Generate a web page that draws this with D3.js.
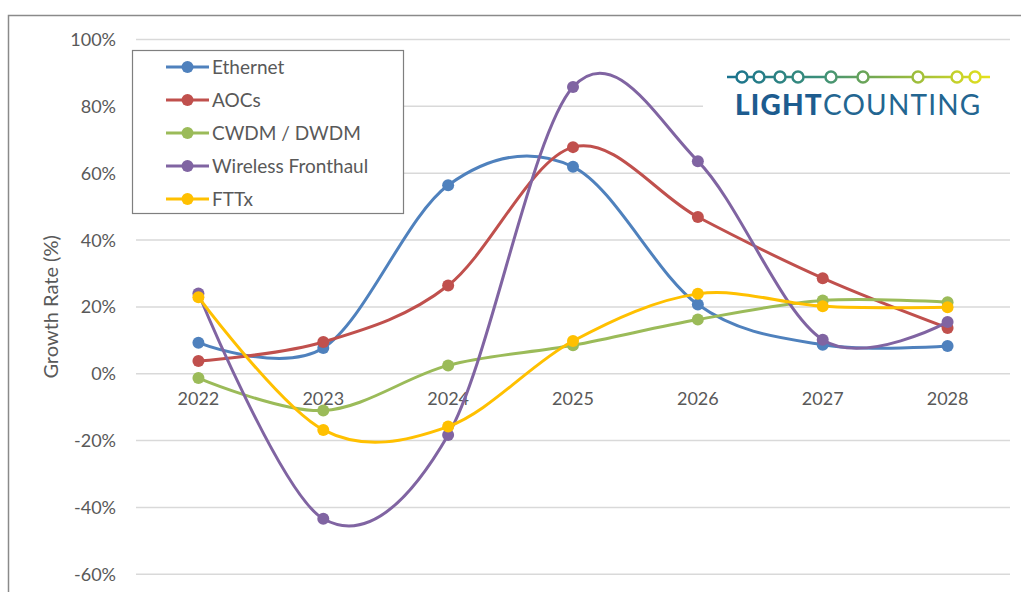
<!DOCTYPE html>
<html>
<head>
<meta charset="utf-8">
<script src="https://cdn.jsdelivr.net/npm/d3@7/dist/d3.min.js"></script>
<style>
  html, body { margin: 0; padding: 0; background: #fff; }
  svg { display: block; font-family: Lato, "Open Sans", sans-serif; }
</style>
</head>
<body>
<svg id="chart" width="1021" height="592"></svg>
<script>
// Growth rate by segment, 2022–2028 (%)
const years = ["2022", "2023", "2024", "2025", "2026", "2027", "2028"];
const seriesNames = ["Ethernet", "AOCs", "CWDM / DWDM", "Wireless Fronthaul", "FTTx"];
const ethernet  = [9.3, 7.7, 56.4, 61.9, 20.7, 8.7, 8.3];
const aocs      = [3.8, 9.5, 26.4, 67.8, 46.9, 28.6, 13.7];
const cwdm      = [-1.3, -11.0, 2.5, 8.5, 16.2, 21.9, 21.4];
const fronthaul = [24.0, -43.4, -18.3, 85.8, 63.6, 10.2, 15.5];
const fttx      = [22.9, -16.8, -15.8, 9.8, 23.9, 20.2, 19.9];
const yTicks = [-60, -40, -20, 0, 20, 40, 60, 80, 100];
const colors = ["#4f81bd", "#c0504d", "#9bbb59", "#8064a2", "#ffc000"];

const seriesValues = [ethernet, aocs, cwdm, fronthaul, fttx];
const series = seriesNames.map((name, i) => ({
  name, color: colors[i],
  points: years.map((y, j) => ({ year: y, value: seriesValues[i][j] }))
}));

const svg = d3.select("#chart");
const textColor = "#595959";

// Outer chart frame
svg.append("rect")
  .attr("x", 8.5).attr("y", 15.5)
  .attr("width", 1030).attr("height", 600)
  .attr("fill", "none").attr("stroke", "#8a8a8a").attr("stroke-width", 1.5);

const x = d3.scaleBand().domain(years).range([136, 1010]);
const xc = d => x(d) + x.bandwidth() / 2;
const y = d3.scaleLinear().domain([-60, 100]).range([574.3, 39.5]);

// Gridlines
svg.append("g").selectAll("line").data(yTicks).join("line")
  .attr("x1", 136).attr("x2", 1010)
  .attr("y1", d => y(d)).attr("y2", d => y(d))
  .attr("stroke", "#d9d9d9").attr("stroke-width", 1.5);

// Y tick labels
svg.append("g").selectAll("text").data(yTicks).join("text")
  .attr("x", 116).attr("y", d => y(d))
  .attr("dy", "0.36em")
  .attr("text-anchor", "end")
  .attr("fill", textColor).attr("font-size", 18)
  .text(d => d + "%");

// Y axis title
svg.append("text")
  .attr("transform", `translate(58,${(y(100) + y(-60)) / 2}) rotate(-90)`)
  .attr("text-anchor", "middle")
  .attr("fill", textColor).attr("font-size", 20)
  .text("Growth Rate (%)");

// X category labels sit just under the zero line
svg.append("g").selectAll("text").data(years).join("text")
  .attr("x", d => xc(d)).attr("y", 405)
  .attr("text-anchor", "middle")
  .attr("fill", textColor).attr("font-size", 18)
  .text(d => d);

// Logo (white panel covers the gridline behind it)
const logo = svg.append("g");
logo.append("rect").attr("x", 703).attr("y", 52).attr("width", 310).attr("height", 72).attr("fill", "#fff");
const defs = svg.append("defs");
const grad = defs.append("linearGradient").attr("id", "lcGrad")
  .attr("gradientUnits", "userSpaceOnUse")
  .attr("x1", 727).attr("x2", 990).attr("y1", 0).attr("y2", 0);
grad.append("stop").attr("offset", "0%").attr("stop-color", "#19728f");
grad.append("stop").attr("offset", "35%").attr("stop-color", "#3b8f7a");
grad.append("stop").attr("offset", "60%").attr("stop-color", "#7fae4a");
grad.append("stop").attr("offset", "100%").attr("stop-color", "#e6e21c");
logo.append("line").attr("x1", 727).attr("x2", 990).attr("y1", 77).attr("y2", 77)
  .attr("stroke", "url(#lcGrad)").attr("stroke-width", 2.5);
const nodes = [742, 759, 780, 798, 831, 863, 918, 957, 975];
logo.selectAll("circle").data(nodes).join("circle")
  .attr("cx", d => d).attr("cy", 77).attr("r", 5.5)
  .attr("fill", "#fff").attr("stroke", "url(#lcGrad)").attr("stroke-width", 2.5);
const lt = logo.append("text").attr("x", 735).attr("y", 114.5)
  .attr("font-family", "Lato, 'Open Sans', sans-serif").attr("font-size", 28)
  .attr("letter-spacing", 1.2);
lt.append("tspan").attr("font-weight", 900).attr("fill", "#1d5c8f").text("LIGHT");
lt.append("tspan").attr("font-weight", 400).attr("fill", "#236691").text("COUNTING");

// Smoothed series lines with markers
const line = d3.line()
  .x(d => xc(d.year)).y(d => y(d.value))
  .curve(d3.curveCardinal.tension(0));

const sg = svg.append("g").selectAll("g").data(series).join("g");
sg.append("path")
  .attr("d", d => line(d.points))
  .attr("fill", "none").attr("stroke", d => d.color)
  .attr("stroke-width", 3).attr("stroke-linecap", "round");
sg.selectAll("circle").data(d => d.points.map(p => ({ ...p, color: d.color }))).join("circle")
  .attr("cx", d => xc(d.year)).attr("cy", d => y(d.value))
  .attr("r", 6).attr("fill", d => d.color);

// Legend
const lg = svg.append("g");
lg.append("rect").attr("x", 132.5).attr("y", 50.5).attr("width", 271).attr("height", 163)
  .attr("fill", "#fff").attr("stroke", "#7f7f7f").attr("stroke-width", 1.2);
const li = lg.selectAll("g").data(series).join("g")
  .attr("transform", (d, i) => `translate(0,${67 + i * 33})`);
li.append("line").attr("x1", 166).attr("x2", 209).attr("y1", 0).attr("y2", 0)
  .attr("stroke", d => d.color).attr("stroke-width", 3);
li.append("circle").attr("cx", 187.5).attr("cy", 0).attr("r", 6).attr("fill", d => d.color);
li.append("text").attr("x", 212).attr("y", 0).attr("dy", "0.36em")
  .attr("fill", textColor).attr("font-size", 19)
  .text(d => d.name);
</script>
</body>
</html>
